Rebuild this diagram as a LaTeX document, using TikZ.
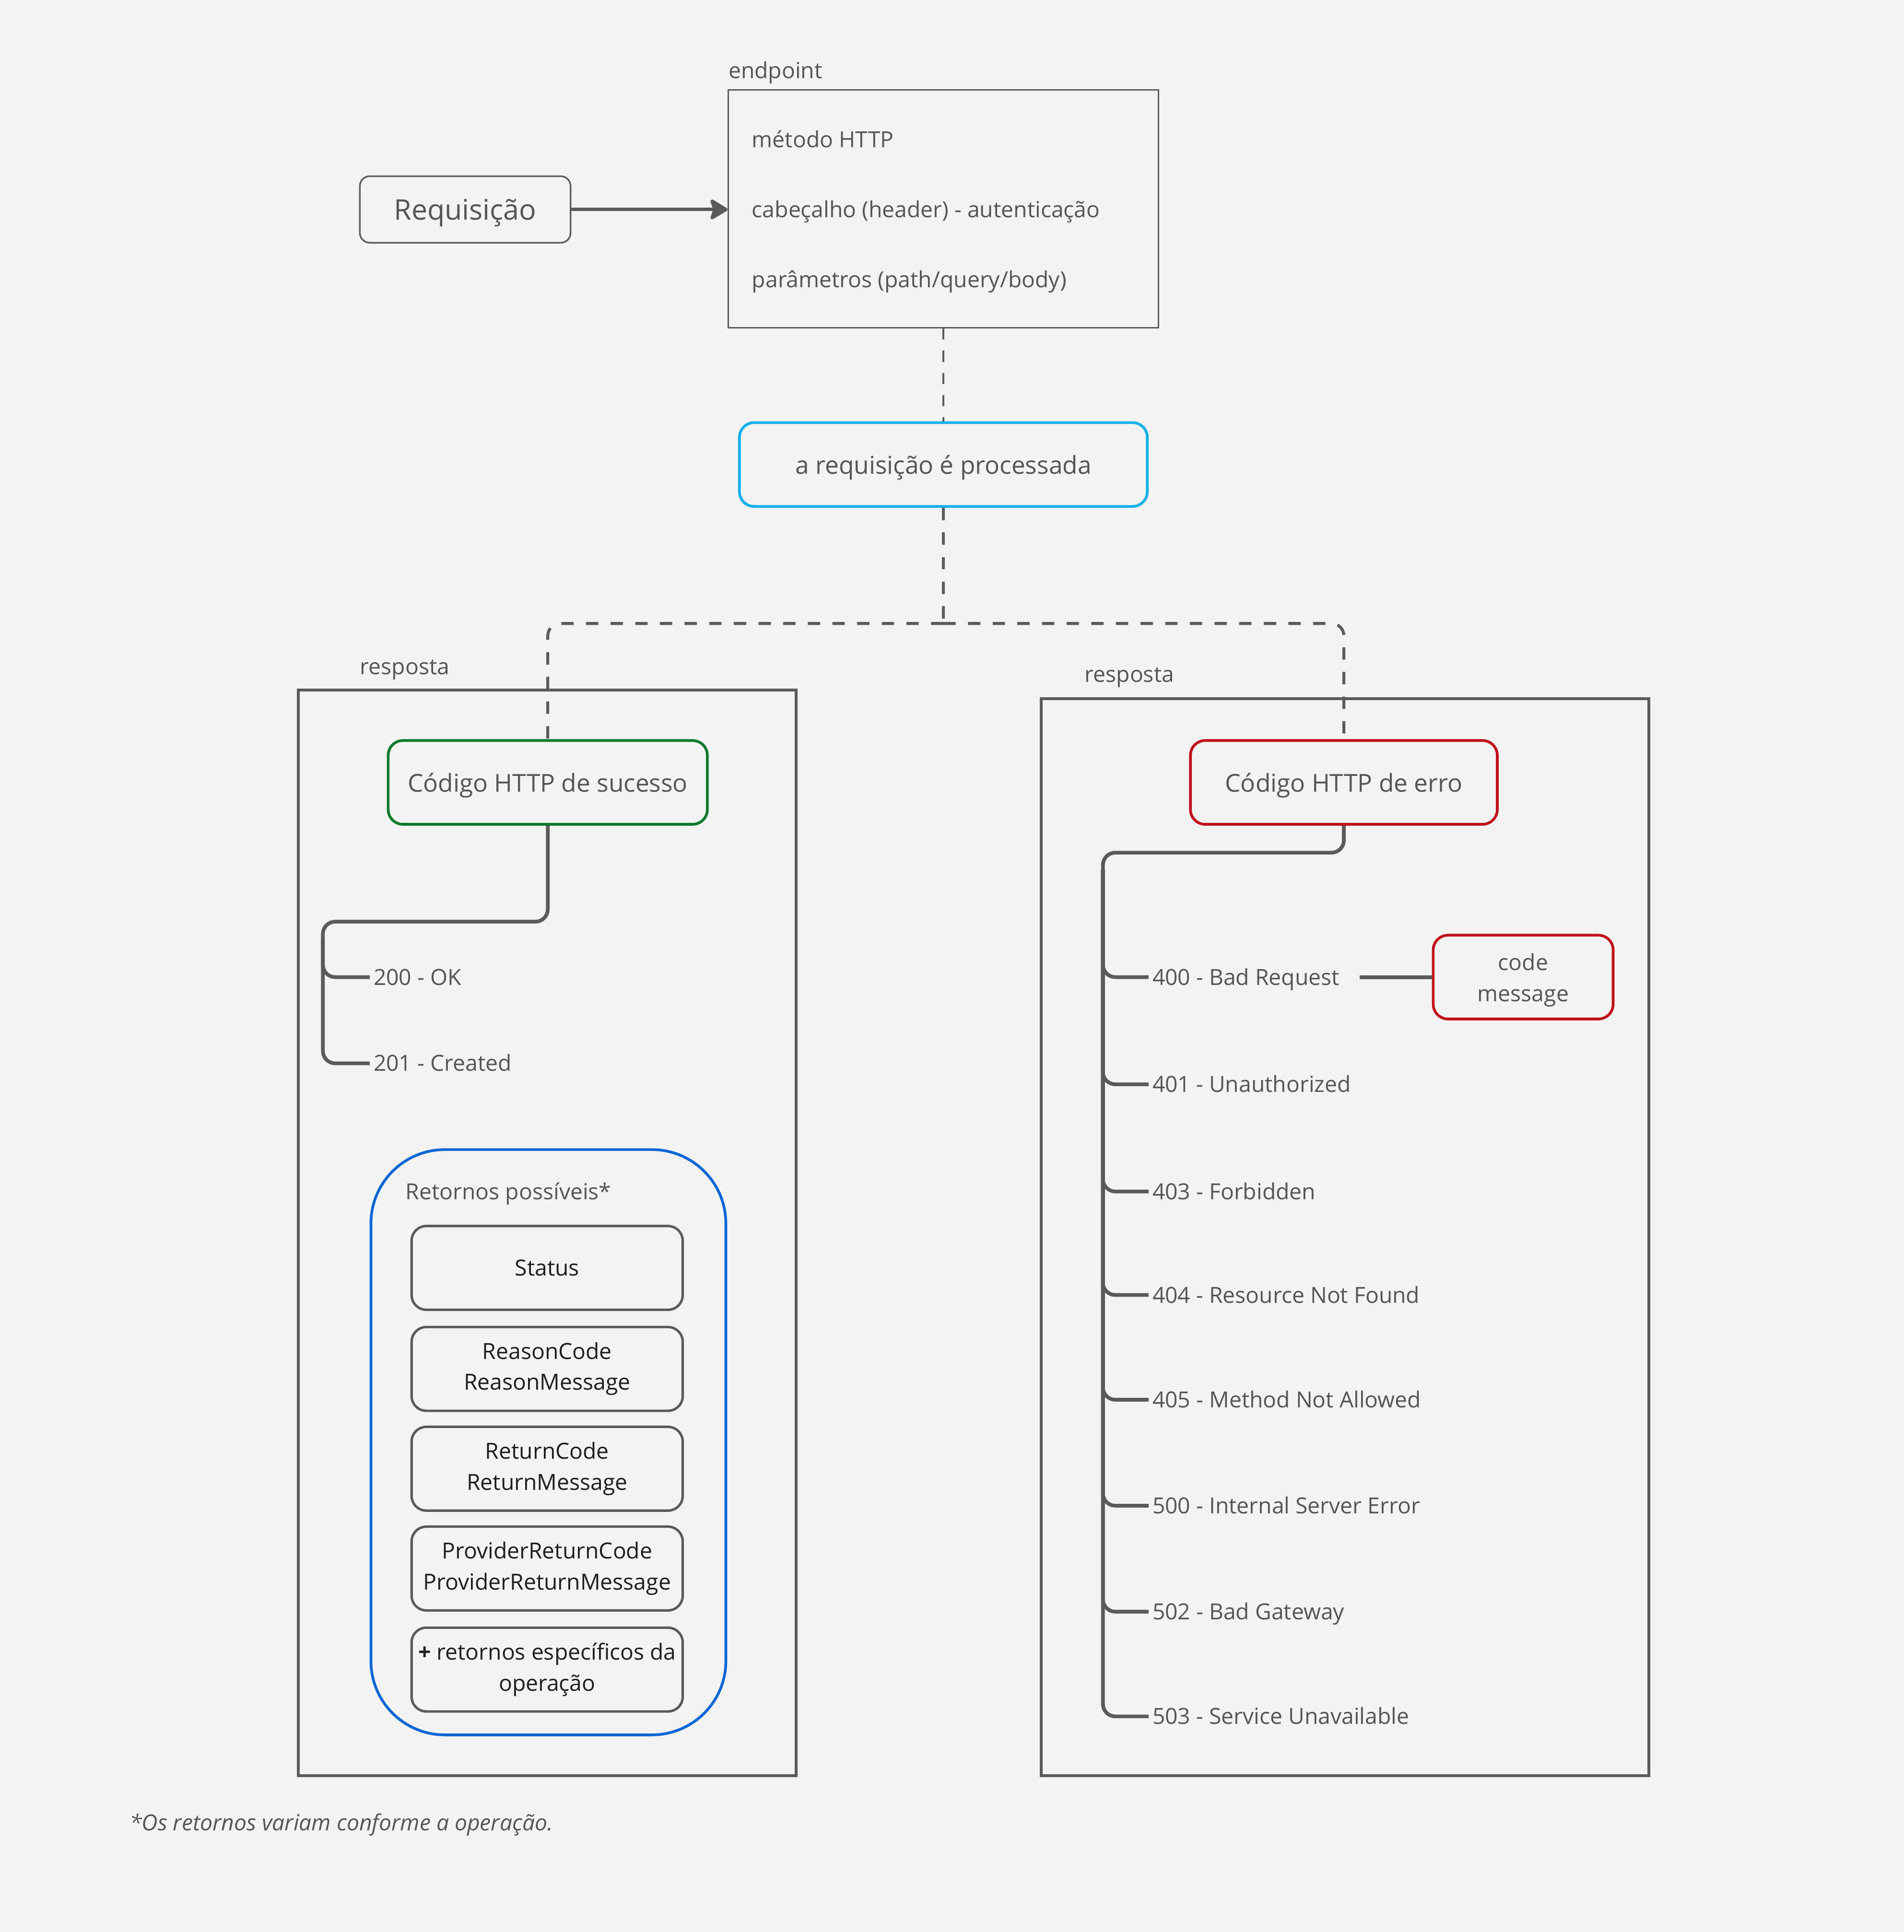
\documentclass[tikz,border=0pt]{standalone}
\usepackage{fontspec}
\setmainfont{Open Sans}
\usetikzlibrary{arrows.meta,calc}
\definecolor{bg}{HTML}{F2F3F2}
\definecolor{ln}{HTML}{5A5A5A}
\definecolor{tx}{HTML}{555555}
\definecolor{dk}{HTML}{1E1E1E}
\definecolor{cyanb}{HTML}{12B0E8}
\definecolor{greenb}{HTML}{0B7A2C}
\definecolor{redb}{HTML}{C0101A}
\definecolor{blueb}{HTML}{0B66D4}
\begin{document}
\begin{tikzpicture}[x=1pt,y=-1pt,
  txt/.style={font=\fontsize{18}{25}\selectfont, text=tx, inner sep=0pt},
  ttl/.style={txt, anchor=west, text height=14pt, text depth=4pt, yshift=-1.5pt},
  lbl/.style={txt, anchor=west, text height=12.8pt, text depth=0pt, inner ysep=0pt, inner xsep=3pt},
  cbox/.style={draw, rounded corners=12pt, line width=2.2pt, inner sep=0pt, align=center,
    font=\fontsize{20}{26}\selectfont, text=tx, text depth=0pt},
  ibox/.style={draw=ln, rounded corners=12pt, line width=2pt, inner sep=0pt, align=center,
    minimum width=220pt, minimum height=68pt, font=\fontsize{18}{25}\selectfont, text=dk},
  frame/.style={draw=ln, line width=2.5pt, inner sep=0pt},
  tree/.style={draw=ln, line width=3pt, rounded corners=10pt},
  dashthin/.style={draw=ln, line width=1.3pt, dash pattern=on 9pt off 9pt},
  dashthick/.style={draw=ln, line width=2.4pt, dash pattern=on 10pt off 10pt, rounded corners=10pt},
]
\fill[bg] (0,0) rectangle (1545,1568);
\useasboundingbox (0,0) rectangle (1545,1568);

% top
\node[draw=ln, line width=1.3pt, rounded corners=8pt, minimum width=171pt, minimum height=54pt,
  inner sep=0pt, font=\fontsize{23}{28}\selectfont, text=tx, text depth=0pt] (req) at (377.5,170) {Requisição};
\node[draw=ln, line width=1.3pt, minimum width=349pt, minimum height=193pt, inner sep=0pt] (ep) at (765.5,169.5) {};
\node[ttl] (eplbl) at (591,57) {endpoint};
\node[ttl] (m1) at (610,113) {método HTTP};
\node[ttl] (m2) at (610,170) {cabeçalho (header) - autenticação};
\node[ttl] (m3) at (610,227) {parâmetros (path/query/body)};
\draw[ln, line width=2.8pt, -{Stealth[length=16pt,width=19pt,inset=3pt,round]}] (req.east) -- (ep.west |- req.east);

\node[cbox, draw=cyanb, minimum width=331pt, minimum height=68pt] (proc) at (765.5,377) {a requisição é processada};
\draw[dashthin] (ep.south) -- (proc.north);

% frames
\node[frame, minimum width=404pt, minimum height=881pt] (fL) at (444,1000.5) {};
\node[frame, minimum width=493pt, minimum height=874pt] (fR) at (1091.5,1004) {};
\node[ttl] (rL) at (292,541) {resposta};
\node[ttl] (rR) at (880,547) {resposta};

\node[cbox, draw=greenb, fill=bg, minimum width=259pt, minimum height=68pt] (succ) at (444.5,635) {Código HTTP de sucesso};
\node[cbox, draw=redb, fill=bg, minimum width=249pt, minimum height=68pt] (err) at (1090.5,635) {Código HTTP de erro};

\coordinate (j) at (765.5,506);
\draw[dashthick] (proc.south) -- (j);
\draw[dashthick] (j) -| (succ.north);
\draw[dashthick] (j) -| (err.north);

% success tree
\node[lbl] (l200) at (300,793) {200 - OK};
\node[lbl] (l201) at (300,863) {201 - Created};
\coordinate (sL) at (262,748);
\draw[tree] (succ.south) |- (sL) |- (l201.west);
\draw[tree] ($(sL)+(0,14)$) |- (l200.west);

% retornos
\node[draw=blueb, line width=2.2pt, rounded corners=60pt, minimum width=288pt, minimum height=475pt, inner sep=0pt] (ret) at (445,1170.5) {};
\node[ttl] (retlbl) at (329,967) {Retornos possíveis*};
\node[ibox] (b1) at (444,1029) {Status};
\node[ibox] (b2) at (444,1111) {ReasonCode\\ReasonMessage};
\node[ibox] (b3) at (444,1192) {ReturnCode\\ReturnMessage};
\node[ibox] (b4) at (444,1273) {ProviderReturnCode\\ProviderReturnMessage};
\node[ibox] (b5) at (444,1355) {{\bfseries +} retornos específicos da\\operação};

% error tree
\coordinate (eL) at (895,692);
\node[lbl] (e400) at (932,793) {400 - Bad Request};
\node[lbl] (e401) at (932,880) {401 - Unauthorized};
\node[lbl] (e403) at (932,967) {403 - Forbidden};
\node[lbl] (e404) at (932,1051) {404 - Resource Not Found};
\node[lbl] (e405) at (932,1136) {405 - Method Not Allowed};
\node[lbl] (e500) at (932,1222) {500 - Internal Server Error};
\node[lbl] (e502) at (932,1308) {502 - Bad Gateway};
\node[lbl] (e503) at (932,1393) {503 - Service Unavailable};
\draw[tree] (err.south) |- (eL) |- (e503.west);
\foreach \n in {e400,e401,e403,e404,e405,e500,e502}
  \draw[tree] ($(eL)+(0,14)$) |- (\n.west);

\node[draw=redb, line width=2.2pt, rounded corners=12pt, minimum width=146pt, minimum height=68pt,
  inner sep=0pt] (cm) at (1236,793) {};
\node[txt, align=center, yshift=-2.5pt] (cmt) at (cm.center) {code\\message};
\draw[ln, line width=3pt] ([xshift=13pt]e400.east) -- (cm.west);

% footer
\node[ttl, font=\fontsize{18}{25}\selectfont\itshape] (foot) at (105,1479) {*Os retornos variam conforme a operação.};
\end{tikzpicture}
\end{document}
